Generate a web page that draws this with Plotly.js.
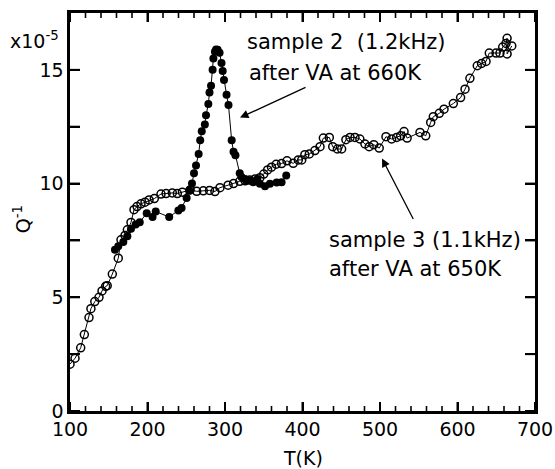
<!DOCTYPE html>
<html>
<head>
<meta charset="utf-8">
<script src="https://cdn.plot.ly/plotly-3.0.1.min.js"></script>
<style>html,body{margin:0;padding:0;background:#fff;}#chart{width:555px;height:469px;}</style>
</head>
<body>
<div id="chart"></div>
<script>
// sample 3 (1.1 kHz), open circles
const tempS3 = [100,106.5,113.8,118.5,124.5,127,132,137.4,141.3,146,148,154.6,162.3,165.8,171,174,178.7,182.6,186.5,191.6,196.8,202,208.8,217.4,224,232,238.5,245,255,263.5,272,280,287,293.5,304,311,319,326,332,338.7,345,350,355,360,366,373,380,388,394.6,399,403,408.8,416,422.6,426.9,434.6,439,445,450.5,456,461.3,467.7,474,480.6,486,492,499,507.7,515,521.5,526.7,531,535,551.6,559,565.4,568.8,576.5,582.6,594.6,604,609.7,616,625.5,631,636.8,641,649.7,654.8,658.3,662.6,664,664,670];
const qS3 = [2.06,2.32,2.78,3.36,4.11,4.5,4.81,5.0,5.28,5.48,5.51,6.02,6.72,7.53,7.72,7.97,8.29,8.85,8.99,9.11,9.18,9.28,9.34,9.54,9.56,9.59,9.56,9.62,9.72,9.66,9.68,9.7,9.65,9.82,9.93,10.0,10.1,10.12,10.16,10.2,10.26,10.42,10.6,10.72,10.85,10.88,11.0,10.89,11.04,11.04,11.27,11.3,11.45,11.62,12.0,12.03,11.62,11.52,11.52,11.93,12.03,12.03,11.96,11.74,11.62,11.71,11.56,12.06,11.96,12.03,12.1,12.29,12.0,12.25,12.1,12.69,12.94,13.09,13.27,13.52,13.78,14.15,14.63,15.18,15.28,15.37,15.74,15.74,15.74,16.0,16.16,16.39,15.7,16.05];

// sample 2 (1.2 kHz), filled circles
const tempS2 = [158,162.3,168.8,174,178.7,184.7,190,199,206.5,210.6,228,239.8,244,250.5,254,257.4,260,262.6,266,268,270,274,275.5,278.5,280,282,284,285,287,288.5,290.5,293,295.5,297,298.7,302,304.5,308.6,311,313.5,319,321.5,325.8,328,332.3,336.5,341.7,345,351.6,358,366.7,373,379];
const qS2 = [7.09,7.24,7.43,7.68,8.01,8.2,8.3,8.7,8.53,8.77,8.53,8.82,8.93,9.37,9.69,10.0,10.45,10.8,11.3,11.9,12.3,12.6,13.0,13.5,14.0,14.3,15.0,15.5,15.8,15.9,15.88,15.75,15.3,14.95,14.55,13.9,13.45,11.9,11.4,11.25,10.45,10.28,10.2,10.13,10.13,10.06,10.2,9.99,9.88,9.99,10.05,10.06,10.35];

// axis ticks
const xMajorTicks = [100,200,300,400,500,600,700];
const xMinorTicks = [120,140,160,180,220,240,260,280,320,340,360,380,420,440,460,480,520,540,560,580,620,640,660,680];
const yTickVals = [0,2.5,5,7.5,10,12.5,15];
const yTickText = ['0','','5','','10','','15'];

const FONT = 'DejaVu Sans, Arial, sans-serif';

// plot area is 465 x 398 px; tick marks drawn inward on all four sides
const PW = 465, PH = 398;
const tickShapes = [];
function xTick(v, len, w) {
  tickShapes.push({type: 'line', xref: 'x', yref: 'paper', x0: v, x1: v, y0: 0, y1: len / PH, layer: 'above', line: {color: '#000', width: w}});
  tickShapes.push({type: 'line', xref: 'x', yref: 'paper', x0: v, x1: v, y0: 1, y1: 1 - len / PH, layer: 'above', line: {color: '#000', width: w}});
}
function yTick(v, len, w) {
  tickShapes.push({type: 'line', xref: 'paper', yref: 'y', x0: 0, x1: len / PW, y0: v, y1: v, layer: 'above', line: {color: '#000', width: w}});
  tickShapes.push({type: 'line', xref: 'paper', yref: 'y', x0: 1, x1: 1 - len / PW, y0: v, y1: v, layer: 'above', line: {color: '#000', width: w}});
}
xMajorTicks.forEach(v => xTick(v, 9, 2));
xMinorTicks.forEach(v => xTick(v, 5, 1.6));
yTickVals.forEach(v => yTick(v, 10, 2));

const traces = [
  {x: tempS3, y: qS3, type: 'scatter', mode: 'lines+markers',
   line: {color: '#000', width: 1},
   marker: {symbol: 'circle-open', size: 8, color: '#000', line: {color: '#000', width: 1.5}},
   hoverinfo: 'skip'},
  {x: tempS2, y: qS2, type: 'scatter', mode: 'lines+markers',
   line: {color: '#000', width: 1},
   marker: {symbol: 'circle', size: 8, color: '#000'},
   hoverinfo: 'skip'}
];

const layout = {
  width: 555, height: 469,
  margin: {l: 70, r: 20, t: 13, b: 58},
  paper_bgcolor: '#fff', plot_bgcolor: '#fff',
  showlegend: false,
  xaxis: {
    range: [100, 700], tickmode: 'array', tickvals: xMajorTicks,
    ticks: 'inside', ticklen: 9, tickwidth: 2, tickcolor: '#000',
    showline: true, linewidth: 2.6, linecolor: '#000', mirror: 'ticks',
    showgrid: false, zeroline: false,
    tickfont: {family: FONT, size: 19, color: '#000'}
  },
  yaxis: {
    range: [0, 17.5], tickmode: 'array', tickvals: yTickVals, ticktext: yTickText,
    ticks: 'inside', ticklen: 10, tickwidth: 2, tickcolor: '#000',
    showline: true, linewidth: 2.6, linecolor: '#000', mirror: 'ticks',
    showgrid: false, zeroline: false,
    tickfont: {family: FONT, size: 19, color: '#000'}
  },
  shapes: tickShapes,
  annotations: [
    {xref: 'x', yref: 'y', x: 325.8, y: 16.23, text: 'sample 2\u00a0 (1.2kHz)', showarrow: false,
     xanchor: 'left', yanchor: 'middle', font: {family: FONT, size: 21, color: '#000'}},
    {xref: 'x', yref: 'y', x: 328.4, y: 14.87, text: 'after VA at 660K', showarrow: false,
     xanchor: 'left', yanchor: 'middle', font: {family: FONT, size: 21, color: '#000'}},
    {xref: 'x', yref: 'y', x: 431.6, y: 7.5, text: 'sample 3 (1.1kHz)', showarrow: false,
     xanchor: 'left', yanchor: 'middle', font: {family: FONT, size: 21, color: '#000'}},
    {xref: 'x', yref: 'y', x: 431.6, y: 6.23, text: 'after VA at 650K', showarrow: false,
     xanchor: 'left', yanchor: 'middle', font: {family: FONT, size: 21, color: '#000'}},
    {xref: 'x', yref: 'y', x: 319.4, y: 12.9, ax: 67, ay: -31, text: '', showarrow: true,
     arrowhead: 2, arrowsize: 1.3, arrowwidth: 1.3, arrowcolor: '#000'},
    {xref: 'x', yref: 'y', x: 502.6, y: 11.1, ax: 32, ay: 62, text: '', showarrow: true,
     arrowhead: 2, arrowsize: 1.3, arrowwidth: 1.3, arrowcolor: '#000'},
    {xref: 'paper', yref: 'paper', x: -0.103, y: 0.482, text: 'Q<sup>-1</sup>', showarrow: false,
     textangle: -90, xanchor: 'center', yanchor: 'middle', font: {family: FONT, size: 19, color: '#000'}},
    {xref: 'paper', yref: 'paper', x: -0.02, y: 0.932, text: 'x10<sup>-5</sup>', showarrow: false,
     xanchor: 'right', yanchor: 'middle', font: {family: FONT, size: 19, color: '#000'}},
    {xref: 'paper', yref: 'paper', x: 0.5, y: -0.118, text: 'T(K)', showarrow: false,
     xanchor: 'center', yanchor: 'middle', font: {family: FONT, size: 19, color: '#000'}}
  ]
};

Plotly.newPlot('chart', traces, layout, {staticPlot: true, displayModeBar: false});
</script>
</body>
</html>
